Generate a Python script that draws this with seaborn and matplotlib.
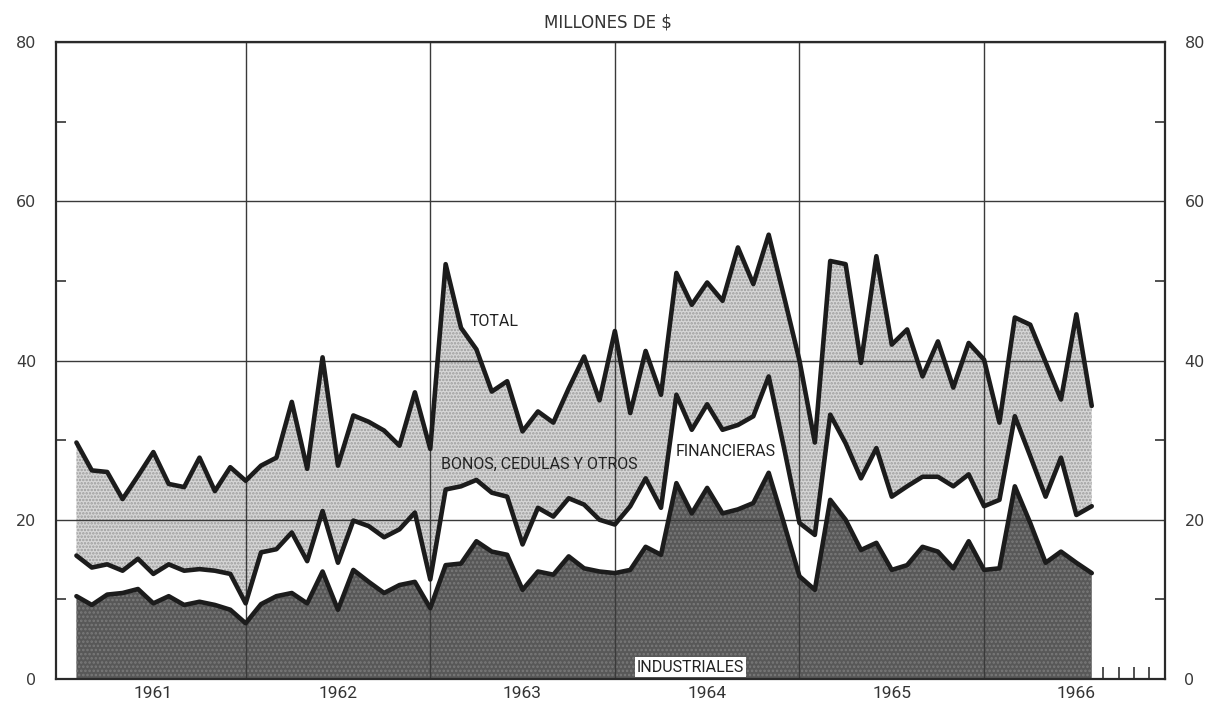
import numpy as np
import pandas as pd
import matplotlib
matplotlib.use("Agg")
import matplotlib.pyplot as plt
import seaborn as sns

# ---- data (millones de $), monthly Jan 1961 - Jul 1966 ----
years = [1961, 1962, 1963, 1964, 1965, 1966]
year_labels = ["1961", "1962", "1963", "1964", "1965", "1966"]

total = [
    29.7, 26.2, 26.0, 22.6, 25.5, 28.5, 24.5, 24.1, 27.8, 23.6, 26.6, 24.9,
    26.8, 27.8, 34.8, 26.4, 40.4, 26.8, 33.1, 32.3, 31.2, 29.3, 36.0, 28.9,
    52.1, 44.1, 41.4, 36.1, 37.4, 31.1, 33.6, 32.2, 36.5, 40.5, 35.0, 43.7,
    33.4, 41.2, 35.7, 51.0, 47.0, 49.8, 47.5, 54.2, 49.6, 55.8, 48.0, 40.0,
    29.7, 52.5, 52.1, 39.7, 53.1, 42.0, 43.9, 38.0, 42.4, 36.6, 42.2, 40.1,
    32.2, 45.4, 44.5, 39.8, 35.1, 45.8, 34.3,
]
# industriales + financieras (upper edge of the white band)
financieras_acum = [
    15.5, 14.0, 14.4, 13.6, 15.1, 13.2, 14.4, 13.6, 13.8, 13.6, 13.2, 9.5,
    15.9, 16.3, 18.4, 14.8, 21.1, 14.6, 19.9, 19.2, 17.8, 18.8, 20.9, 12.5,
    23.8, 24.2, 25.0, 23.4, 22.9, 16.9, 21.5, 20.4, 22.7, 21.9, 20.0, 19.4,
    21.7, 25.2, 21.5, 35.7, 31.3, 34.5, 31.3, 31.9, 33.0, 38.0, 29.0, 19.6,
    18.1, 33.2, 29.6, 25.2, 29.0, 22.9, 24.2, 25.4, 25.4, 24.2, 25.7, 21.7,
    22.5, 33.0, 28.0, 22.9, 27.8, 20.6, 21.7,
]
industriales = [
    10.4, 9.3, 10.6, 10.8, 11.3, 9.5, 10.4, 9.3, 9.7, 9.3, 8.7, 7.0,
    9.4, 10.4, 10.8, 9.5, 13.5, 8.7, 13.7, 12.2, 10.8, 11.8, 12.2, 8.9,
    14.3, 14.5, 17.3, 16.0, 15.6, 11.2, 13.5, 13.1, 15.4, 13.9, 13.5, 13.3,
    13.7, 16.6, 15.6, 24.6, 20.8, 24.0, 20.8, 21.3, 22.1, 25.9, 19.5, 12.9,
    11.2, 22.5, 20.0, 16.2, 17.1, 13.7, 14.3, 16.6, 16.0, 13.9, 17.3, 13.7,
    13.9, 24.2, 19.6, 14.6, 16.0, 14.6, 13.3,
]
y_ticks = [0, 20, 40, 60, 80]
y_minor = [10, 30, 50, 70]
end_month_ticks = [1966.645, 1966.73, 1966.81, 1966.895]

n = len(total)
t = 1961 + (np.arange(n) + 1) / 12.0
df = pd.DataFrame({"t": t, "total": total, "fin": financieras_acum, "ind": industriales})

sns.set_style("white")
plt.rcParams["font.family"] = ["DejaVu Sans"]
plt.rcParams["hatch.linewidth"] = 1.2

fig = plt.figure(figsize=(12.12, 7.17), dpi=100)
ax = fig.add_axes([0.0458, 0.053, 0.9154, 0.8884])

ax.fill_between(df["t"], 0, df["ind"], facecolor="#585858", edgecolor="#7a7a7a",
                hatch="....", linewidth=0, zorder=1)
ax.fill_between(df["t"], df["ind"], df["fin"], facecolor="white", linewidth=0, zorder=1)
ax.fill_between(df["t"], df["fin"], df["total"], facecolor="#d6d6d6", edgecolor="#9c9c9c",
                hatch=".....", linewidth=0, zorder=1)

for col in ["ind", "fin", "total"]:
    sns.lineplot(data=df, x="t", y=col, ax=ax, color="#1c1c1c", linewidth=3.3,
                 zorder=3, legend=False)

ax.set_axisbelow("line")
ax.set_xlim(1960.97, 1966.98)
ax.set_ylim(0, 80)

# grid
ax.yaxis.grid(True, which="major", color="#3a3a3a", linewidth=1.0)
for yr in years[1:]:
    ax.axvline(yr, color="#3a3a3a", linewidth=1.0, zorder=1.5)

# y axis (both sides)
ax.set_yticks(y_ticks)
ax.set_yticklabels([str(v) for v in y_ticks])
ax.set_yticks(y_minor, minor=True)
ax.tick_params(axis="y", which="major", length=0, pad=14, labelsize=11.5,
               labelcolor="#3a3a3a", left=True, right=True, labelleft=True, labelright=True)
ax.tick_params(axis="y", which="minor", length=7, width=1.2, direction="in",
               left=True, right=True, color="#333333")

# x axis: year labels at mid-year, small month ticks at the end
narrow = ["Roboto", "DejaVu Sans"]
ax.set_xticks([y + 0.5 for y in years])
ax.set_xticklabels(year_labels, family=narrow)
ax.set_xticks(end_month_ticks, minor=True)
ax.tick_params(axis="x", which="major", length=0, pad=5, labelsize=12.5, labelcolor="#333333")
ax.tick_params(axis="x", which="minor", length=9, width=1.2, direction="in",
               bottom=True, color="#333333")
ax.set_xlabel("")
ax.set_ylabel("")

for s in ax.spines.values():
    s.set_visible(True)
    s.set_color("#2a2a2a")
    s.set_linewidth(1.6)

# annotations
ax.text(1963.344, 44.9, "TOTAL", ha="center", va="center", fontsize=11.5,
        family=narrow, color="#222222", zorder=4)
ax.text(1963.588, 26.9, "BONOS, CEDULAS Y OTROS", ha="center", va="center", fontsize=11.5,
        family=narrow, color="#222222", zorder=4)
ax.text(1964.60, 28.6, "FINANCIERAS", ha="center", va="center", fontsize=11.5,
        family=narrow, color="#222222", zorder=4)
ax.text(1964.41, 1.5, "INDUSTRIALES", ha="center", va="center", fontsize=11.5,
        family=narrow, color="#222222", zorder=4,
        bbox=dict(facecolor="white", edgecolor="none", pad=1.5))

fig.text(0.5017, 0.969, "MILLONES DE \\$", ha="center", va="center",
         fontsize=12, color="#333333")

fig.savefig("out.png", dpi=100)
